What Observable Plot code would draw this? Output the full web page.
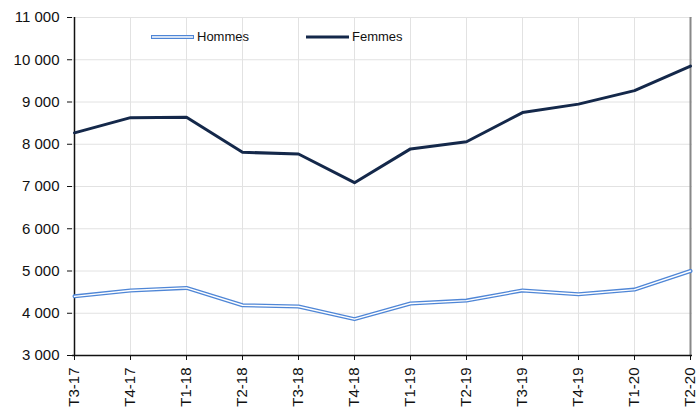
<!DOCTYPE html>
<html>
<head>
<meta charset="utf-8">
<script src="https://cdn.jsdelivr.net/npm/d3@7"></script>
<script src="https://cdn.jsdelivr.net/npm/@observablehq/plot@0.6"></script>
<style>
  html, body { margin: 0; padding: 0; background: #fff; }
  #wrap { position: relative; width: 697px; height: 408px; font-family: "Liberation Sans", Arial, sans-serif; }
  #legend { position: absolute; top: 29px; left: 150px; font-size: 13px; color: #111; display: flex; align-items: center; }
  #legend .item { display: flex; align-items: center; }
  #legend svg { margin-right: 2px; }
</style>
</head>
<body>
<div id="wrap">
  <div id="chart"></div>
  <div id="legend">
    <div class="item" style="width:155px">
      <svg width="45" height="10"><line x1="1" y1="5" x2="44" y2="5" stroke="#4f86d6" stroke-width="4"/><line x1="2" y1="5" x2="43" y2="5" stroke="#fff" stroke-width="1.4"/></svg>
      <span>Hommes</span>
    </div>
    <div class="item">
      <svg width="45" height="10"><line x1="1" y1="5" x2="44" y2="5" stroke="#14284a" stroke-width="3"/></svg>
      <span>Femmes</span>
    </div>
  </div>
</div>
<script>
const categories = ["T3-17","T4-17","T1-18","T2-18","T3-18","T4-18","T1-19","T2-19","T3-19","T4-19","T1-20","T2-20"];
const hommes = [4400, 4540, 4600, 4190, 4160, 3860, 4230, 4300, 4540, 4450, 4560, 5000];
const femmes = [8270, 8630, 8640, 7810, 7770, 7090, 7890, 8060, 8750, 8950, 9270, 9850];
const yTicks = [3000, 4000, 5000, 6000, 7000, 8000, 9000, 10000, 11000];

const dataH = categories.map((c, i) => ({cat: c, v: hommes[i]}));
const dataF = categories.map((c, i) => ({cat: c, v: femmes[i]}));
const fmt = d => d3.format(",")(d).replace(/,/g, " ");

const chart = Plot.plot({
  width: 697,
  height: 408,
  marginLeft: 72,
  marginRight: 5,
  marginTop: 17,
  marginBottom: 53,
  style: { fontFamily: "Liberation Sans, Arial, sans-serif", fontSize: "15px", color: "#111", background: "#fff" },
  x: { type: "point", domain: categories, padding: 0, label: null },
  y: { domain: [3000, 11000], label: null },
  marks: [
    Plot.gridX(categories, { stroke: "#e2e2e2", strokeOpacity: 1, strokeWidth: 1 }),
    Plot.gridY(yTicks, { stroke: "#e2e2e2", strokeOpacity: 1, strokeWidth: 1 }),
    Plot.ruleX([categories[categories.length - 1]], { stroke: "#888", strokeWidth: 2 }),
    Plot.axisY(yTicks, { tickFormat: fmt, tickSize: 5, tickPadding: 8, fontSize: 15, stroke: "#111" }),
    Plot.axisX(categories, { tickRotate: -90, tickSize: 5, tickPadding: 7, fontSize: 15, stroke: "#111" }),
    Plot.ruleX([categories[0]], { stroke: "#111", strokeWidth: 1.5 }),
    Plot.ruleY([3000], { stroke: "#111", strokeWidth: 1.5 }),
    Plot.line(dataH, { x: "cat", y: "v", stroke: "#4f86d6", strokeWidth: 4 }),
    Plot.line(dataH, { x: "cat", y: "v", stroke: "#fff", strokeWidth: 1.4 }),
    Plot.line(dataF, { x: "cat", y: "v", stroke: "#14284a", strokeWidth: 3 })
  ]
});
document.getElementById("chart").appendChild(chart);
</script>
</body>
</html>
